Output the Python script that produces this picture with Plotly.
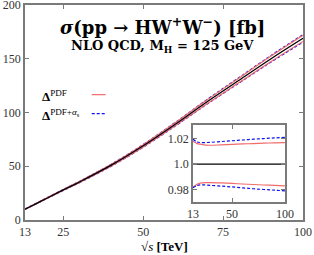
import plotly.graph_objects as go

# Data
sqrt_s = [13, 17, 20, 25, 30, 40, 50, 60, 70, 80, 90, 100]
sigma = [10, 16, 20.5, 28, 35.3, 51, 69, 89, 110, 130, 150, 169]

ratio_pdf_up = [1.0178, 1.0160, 1.0155, 1.0148, 1.0147, 1.0150, 1.0153, 1.0157, 1.0160, 1.0163, 1.0166, 1.0168]
ratio_pdf_dn = [0.9818, 0.9843, 0.9852, 0.9856, 0.9856, 0.9853, 0.9849, 0.9845, 0.9841, 0.9837, 0.9834, 0.9831]
ratio_as_up = [1.0195, 1.0172, 1.0168, 1.0168, 1.0170, 1.0176, 1.0182, 1.0188, 1.0194, 1.0199, 1.0204, 1.0208]
ratio_as_dn = [0.9815, 0.9833, 0.9838, 0.9837, 0.9834, 0.9828, 0.9822, 0.9815, 0.9808, 0.9802, 0.9797, 0.9792]

x_ticks = [13, 25, 50, 75, 100]
y_ticks = [0, 50, 100, 150, 200]
inset_x_ticks = [13, 50, 100]
inset_y_ticks = [0.98, 1.0, 1.02]
inset_y_labels = ["0.98", "1.0", "1.02"]

RED = "#f26b6b"
BLUE = "#1010ee"
GREY = "#7a7a7a"
FONT = "Liberation Serif, DejaVu Serif, serif"
TFONT = "DejaVu Serif, serif"

def scaled(r):
    return [s * q for s, q in zip(sigma, r)]

fig = go.Figure()

# main plot
for r in (ratio_as_up, ratio_as_dn):
    fig.add_trace(go.Scatter(x=sqrt_s, y=scaled(r), mode="lines", line=dict(color=BLUE, width=1.2, dash="3px,2px", shape="spline"), showlegend=False))
for r in (ratio_pdf_up, ratio_pdf_dn):
    fig.add_trace(go.Scatter(x=sqrt_s, y=scaled(r), mode="lines", line=dict(color=RED, width=1.2, shape="spline"), showlegend=False))
fig.add_trace(go.Scatter(x=sqrt_s, y=sigma, mode="lines", line=dict(color="black", width=1.3, shape="spline"), showlegend=False))

# inset
fig.add_trace(go.Scatter(x=[13, 100], y=[1.0, 1.0], mode="lines", line=dict(color="black", width=1.2), xaxis="x2", yaxis="y2", showlegend=False))
for r in (ratio_pdf_up, ratio_pdf_dn):
    fig.add_trace(go.Scatter(x=sqrt_s, y=r, mode="lines", line=dict(color=RED, width=1.2, shape="spline"), xaxis="x2", yaxis="y2", showlegend=False))
for r in (ratio_as_up, ratio_as_dn):
    fig.add_trace(go.Scatter(x=sqrt_s, y=r, mode="lines", line=dict(color=BLUE, width=1.2, dash="3px,2px", shape="spline"), xaxis="x2", yaxis="y2", showlegend=False))

axis_common = dict(showline=True, linecolor=GREY, linewidth=1.5, mirror="ticks", ticks="inside", ticklen=4, tickcolor=GREY,
                   showgrid=False, zeroline=False, automargin=False, ticklabeloverflow="allow",
                   tickfont=dict(family=FONT, size=12, color="#333"))

fig.update_layout(
    width=314, height=255,
    margin=dict(l=25, r=11, t=5, b=35, autoexpand=False),
    paper_bgcolor="white", plot_bgcolor="white",
    xaxis=dict(range=[13, 100], tickvals=x_ticks, **axis_common),
    yaxis=dict(range=[0, 200], tickvals=y_ticks, **axis_common),
    xaxis2=dict(domain=[0.604, 0.935], anchor="y2", range=[13, 100], tickvals=inset_x_ticks, **axis_common),
    yaxis2=dict(domain=[0.084, 0.442], anchor="x2", range=[0.9705, 1.0305], tickvals=inset_y_ticks, ticktext=inset_y_labels, **axis_common),
    font=dict(family=FONT, color="black"),
)

fig.add_annotation(xref="paper", yref="paper", x=0.495, y=0.9, xanchor="center", yanchor="middle", text="<b><i>σ</i>(pp → HW<sup>+</sup>W<sup>−</sup>) [fb]</b>", showarrow=False, font=dict(family=TFONT, size=18, color="black"))
fig.add_annotation(xref="paper", yref="paper", x=0.495, y=0.805, xanchor="center", yanchor="middle", text="<b>NLO QCD, M<sub>H</sub> = 125 GeV</b>", showarrow=False, font=dict(family=TFONT, size=13, color="black"))
fig.add_annotation(xref="paper", yref="paper", x=0.055, y=0.575, xanchor="left", yanchor="middle", text="<b>Δ</b><sup>PDF</sup>", showarrow=False, font=dict(family=FONT, size=13, color="black"))
fig.add_annotation(xref="paper", yref="paper", x=0.055, y=0.488, xanchor="left", yanchor="middle", text="<b>Δ</b><sup>PDF+<i>α</i><sub>s</sub></sup>", showarrow=False, font=dict(family=FONT, size=13, color="black"))
fig.add_shape(type="line", xref="paper", yref="paper", x0=0.24, x1=0.29, y0=0.583, y1=0.583, line=dict(color=RED, width=1.2))
fig.add_shape(type="line", xref="paper", yref="paper", x0=0.24, x1=0.29, y0=0.495, y1=0.495, line=dict(color=BLUE, width=1.2, dash="3px,2px"))
fig.add_annotation(xref="paper", yref="paper", x=0.5, y=-0.078, xanchor="center", yanchor="top", text="√<i>s</i> <b>[TeV]</b>", showarrow=False, font=dict(family=FONT, size=13, color="black"))

fig.write_html("out.html", config={"displayModeBar": False}, post_script="document.body.style.margin='0';")
